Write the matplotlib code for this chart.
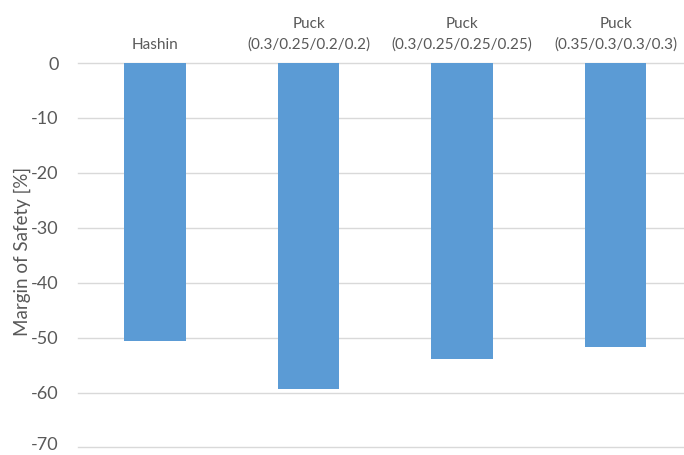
import matplotlib
matplotlib.use("Agg")
import matplotlib.pyplot as plt
import matplotlib.transforms as mtransforms

categories = ["Hashin",
              "Puck\n(0.3/0.25/0.2/0.2)",
              "Puck\n(0.3/0.25/0.25/0.25)",
              "Puck\n(0.35/0.3/0.3/0.3)"]
margin_of_safety = [-50.7, -59.4, -53.9, -51.7]
y_ticks = [0, -10, -20, -30, -40, -50, -60, -70]

plt.rcParams["font.family"] = ["Lato", "DejaVu Sans"]

fig = plt.figure(figsize=(6.84, 4.55), dpi=100)
ax = fig.add_axes([0.1144, 0.0165, 0.898, 0.8450])

x = range(len(categories))
ax.bar(x, margin_of_safety, width=0.4, color="#5b9bd5", zorder=3)

ax.set_xlim(-0.5, len(categories) - 0.5)
ax.set_ylim(-70, 0)
ax.set_yticks(y_ticks)
ax.set_yticklabels([str(v) for v in y_ticks])
ax.yaxis.grid(True, color="#d9d9d9", linewidth=1.0, zorder=0)
ax.set_axisbelow(True)
for line in ax.get_ygridlines():
    line.set_clip_on(False)

ax.xaxis.tick_top()
ax.set_xticks(list(x))
ax.set_xticklabels(categories, fontsize=11, color="#595959", linespacing=1.55)
ax.tick_params(axis="x", length=0, pad=8)
ax.tick_params(axis="y", length=0, pad=14, labelsize=13, labelcolor="#595959")

# keep the lowest tick label inside the figure edge
lowest = ax.get_yticklabels()[-1]
lowest.set_transform(lowest.get_transform() +
                     mtransforms.ScaledTranslation(0, 3 / 72, fig.dpi_scale_trans))

for s in ax.spines.values():
    s.set_visible(False)

fig.text(0.032, 0.448, "Margin of Safety [%]", rotation=90, fontsize=13.5,
         color="#595959", ha="center", va="center")

fig.savefig("out.png", dpi=100)
